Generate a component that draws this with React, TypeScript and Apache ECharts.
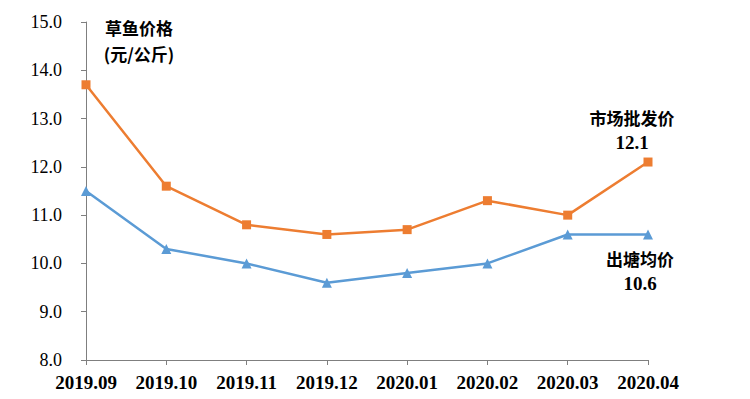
import React, { useEffect, useRef } from "react";
import * as echarts from "echarts";

const categories = ["2019.09", "2019.10", "2019.11", "2019.12", "2020.01", "2020.02", "2020.03", "2020.04"];
const wholesale = [13.7, 11.6, 10.8, 10.6, 10.7, 11.3, 11.0, 12.1];
const pond = [11.5, 10.3, 10.0, 9.6, 9.8, 10.0, 10.6, 10.6];
const yTitle = ["草鱼价格", "(元/公斤)"];
const wholesaleName = "市场批发价";
const pondName = "出塘均价";

const ORANGE = "#ED7D31";
const BLUE = "#5B9BD5";
const CJK = "Noto Sans CJK SC";
const NUM = "Liberation Serif";

const richStyle = {
  n: { fontFamily: CJK, fontSize: 17, fontWeight: "bold", color: "#000", lineHeight: 25, align: "center" },
  v: { fontFamily: NUM, fontSize: 19, fontWeight: "bold", color: "#000", lineHeight: 25, align: "center" },
};

export default function App() {
  const ref = useRef<HTMLDivElement>(null);
  useEffect(() => {
    if (!ref.current) return;
    const chart = echarts.init(ref.current, undefined, { renderer: "svg" });
    chart.setOption({
      animation: false,
      backgroundColor: "#fff",
      grid: { left: 86, right: 102, top: 22, bottom: 39 },
      xAxis: {
        type: "category",
        data: categories,
        boundaryGap: false,
        axisLine: { lineStyle: { color: "#7f7f7f", width: 1 } },
        axisTick: { show: true, alignWithLabel: true, length: 5, lineStyle: { color: "#7f7f7f" } },
        axisLabel: { color: "#000", fontFamily: NUM, fontSize: 19, fontWeight: "bold", margin: 13, interval: 0 },
        splitLine: { show: false },
      },
      yAxis: {
        type: "value",
        min: 8,
        max: 15,
        interval: 1,
        axisLine: { show: true, lineStyle: { color: "#7f7f7f", width: 1 } },
        axisTick: { show: true, length: 5, lineStyle: { color: "#7f7f7f" } },
        axisLabel: { color: "#000", fontFamily: NUM, fontSize: 18, margin: 24, formatter: (v: number) => v.toFixed(1) },
        splitLine: { show: false },
      },
      series: [
        {
          name: wholesaleName,
          type: "line",
          data: wholesale,
          symbol: "rect",
          symbolSize: 9,
          lineStyle: { color: ORANGE, width: 2.5 },
          itemStyle: { color: ORANGE },
          endLabel: {
            show: true,
            formatter: (p: any) => `{n|${wholesaleName}}\n{v|${Number(p.value).toFixed(1)}}`,
            align: "center",
            offset: [-24, -32],
            rich: richStyle,
          },
        },
        {
          name: pondName,
          type: "line",
          data: pond,
          symbol: "triangle",
          symbolSize: 10,
          lineStyle: { color: BLUE, width: 2.5 },
          itemStyle: { color: BLUE },
          endLabel: {
            show: true,
            formatter: (p: any) => `{n|${pondName}}\n{v|${Number(p.value).toFixed(1)}}`,
            align: "center",
            offset: [-16, 37],
            rich: richStyle,
          },
        },
      ],
      graphic: [
        {
          type: "text",
          x: 139,
          y: 14,
          style: {
            text: yTitle.join("\n"),
            fontFamily: CJK,
            fontSize: 17,
            fontWeight: "bold",
            fill: "#000",
            lineHeight: 26,
            align: "center",
          },
        },
      ],
    });
    return () => chart.dispose();
  }, []);
  return <div ref={ref} style={{ width: 750, height: 399, position: "absolute", left: 0, top: 0 }} />;
}
